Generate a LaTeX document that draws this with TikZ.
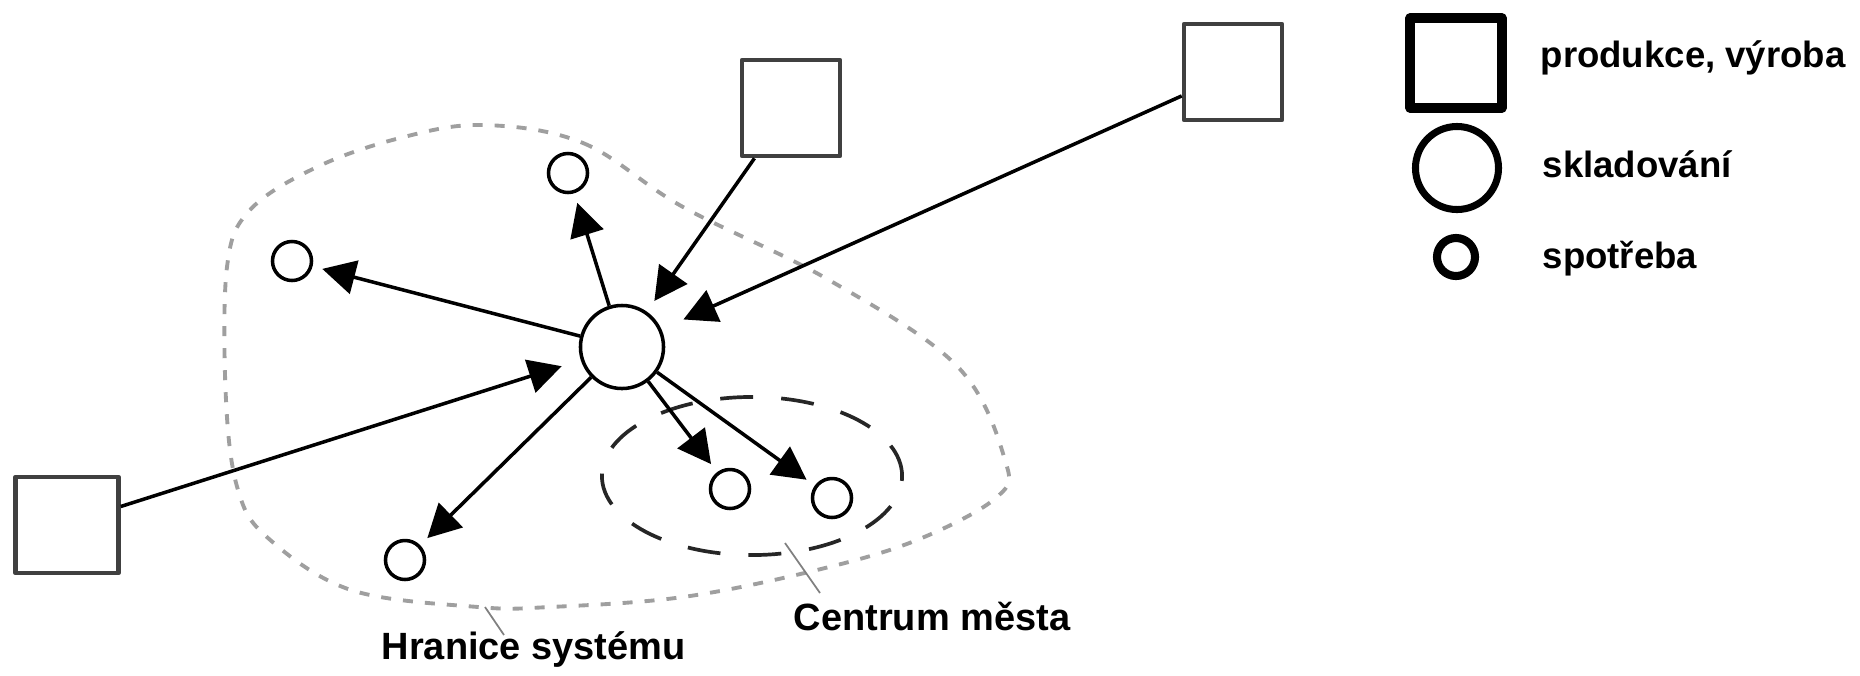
\documentclass[tikz,border=0pt]{standalone}
\usepackage{fontspec}
\setmainfont{Liberation Sans}
\usetikzlibrary{arrows.meta}
\tikzset{
  prod/.style={draw=black!75, line width=1.3pt, fill=white, minimum width=0.98cm, minimum height=0.96cm, inner sep=0pt},
  sklad/.style={circle, draw, line width=1pt, fill=white, minimum size=0.83cm, inner sep=0pt},
  spotr/.style={circle, draw, line width=1pt, fill=white, minimum size=0.39cm, inner sep=0pt},
  tok/.style={-{Triangle[length=3.3mm,width=3.4mm]}, line width=1pt, shorten >=0.1cm},
  popis/.style={font=\fontsize{10.4}{12}\selectfont\bfseries, anchor=base west, inner sep=0pt},
  vodit/.style={gray, line width=0.5pt}
}
\begin{document}
\begin{tikzpicture}[x=0.01cm, y=-0.01cm, line join=round]
\useasboundingbox (0,0) rectangle (1860,675);
\draw[gray!75, line width=1.1pt, dash pattern=on 0.1cm off 0.12cm] plot[smooth cycle, tension=0.6] coordinates {(483,125) (583,143) (683,207) (829,280) (957,366) (1005,460) (997,497) (917,540) (817,570) (683,597) (550,607) (478,607) (351,590) (268,538) (238,490) (226,400) (227,267) (250,210) (317,167) (400,138)};
\draw[black!85, line width=1.05pt, dash pattern=on 0.33cm off 0.28cm] (752,476) ellipse [x radius=1.5cm, y radius=0.79cm];
\node[sklad] (ctr) at (622,347) {};
\node[spotr] (s1) at (292,261) {};
\node[spotr] (s2) at (568,173) {};
\node[spotr] (s3) at (405,560) {};
\node[spotr] (s4) at (730,489) {};
\node[spotr] (s5) at (832,498) {};
\node[prod] (p1) at (791,108) {};
\node[prod] (p2) at (1233,72) {};
\node[prod, minimum width=1.03cm] (p3) at (67,525) {};
\foreach \s in {s1,s2,s3,s4,s5}{
  \draw[tok] (ctr) -- (\s);}
\draw[tok, shorten >=0.13cm] (p1.234) -- (ctr);
\draw[tok, shorten >=0.24cm] (p2.205) -- (ctr);
\draw[tok, shorten >=0.2cm] (p3.19) -- (ctr);
\node[popis, font=\fontsize{10.8}{12}\selectfont\bfseries] (hr) at (381,659) {Hranice systému};
\node[popis, font=\fontsize{10.8}{12}\selectfont\bfseries] (cm) at (793,630) {Centrum města};
\coordinate (hr1) at (485,607);
\coordinate (hr2) at (504,635);
\coordinate (cm1) at (785,543);
\coordinate (cm2) at (820,593);
\draw[vodit] (hr1) -- (hr2);
\draw[vodit] (cm1) -- (cm2);
\node[prod, draw=black, line width=2.85pt, minimum width=0.91cm, minimum height=0.9cm] (lp) at (1456,63) {};
\node[sklad, line width=2pt] (ls) at (1457,168) {};
\node[spotr, line width=2.3pt, minimum size=0.38cm] (lc) at (1456,257) {};
\node[popis] (tp) at (1540,67) {produkce, výroba};
\node[popis] (ts) at (1542,177) {skladování};
\node[popis] (tc) at (1542,268) {spotřeba};
\end{tikzpicture}
\end{document}
